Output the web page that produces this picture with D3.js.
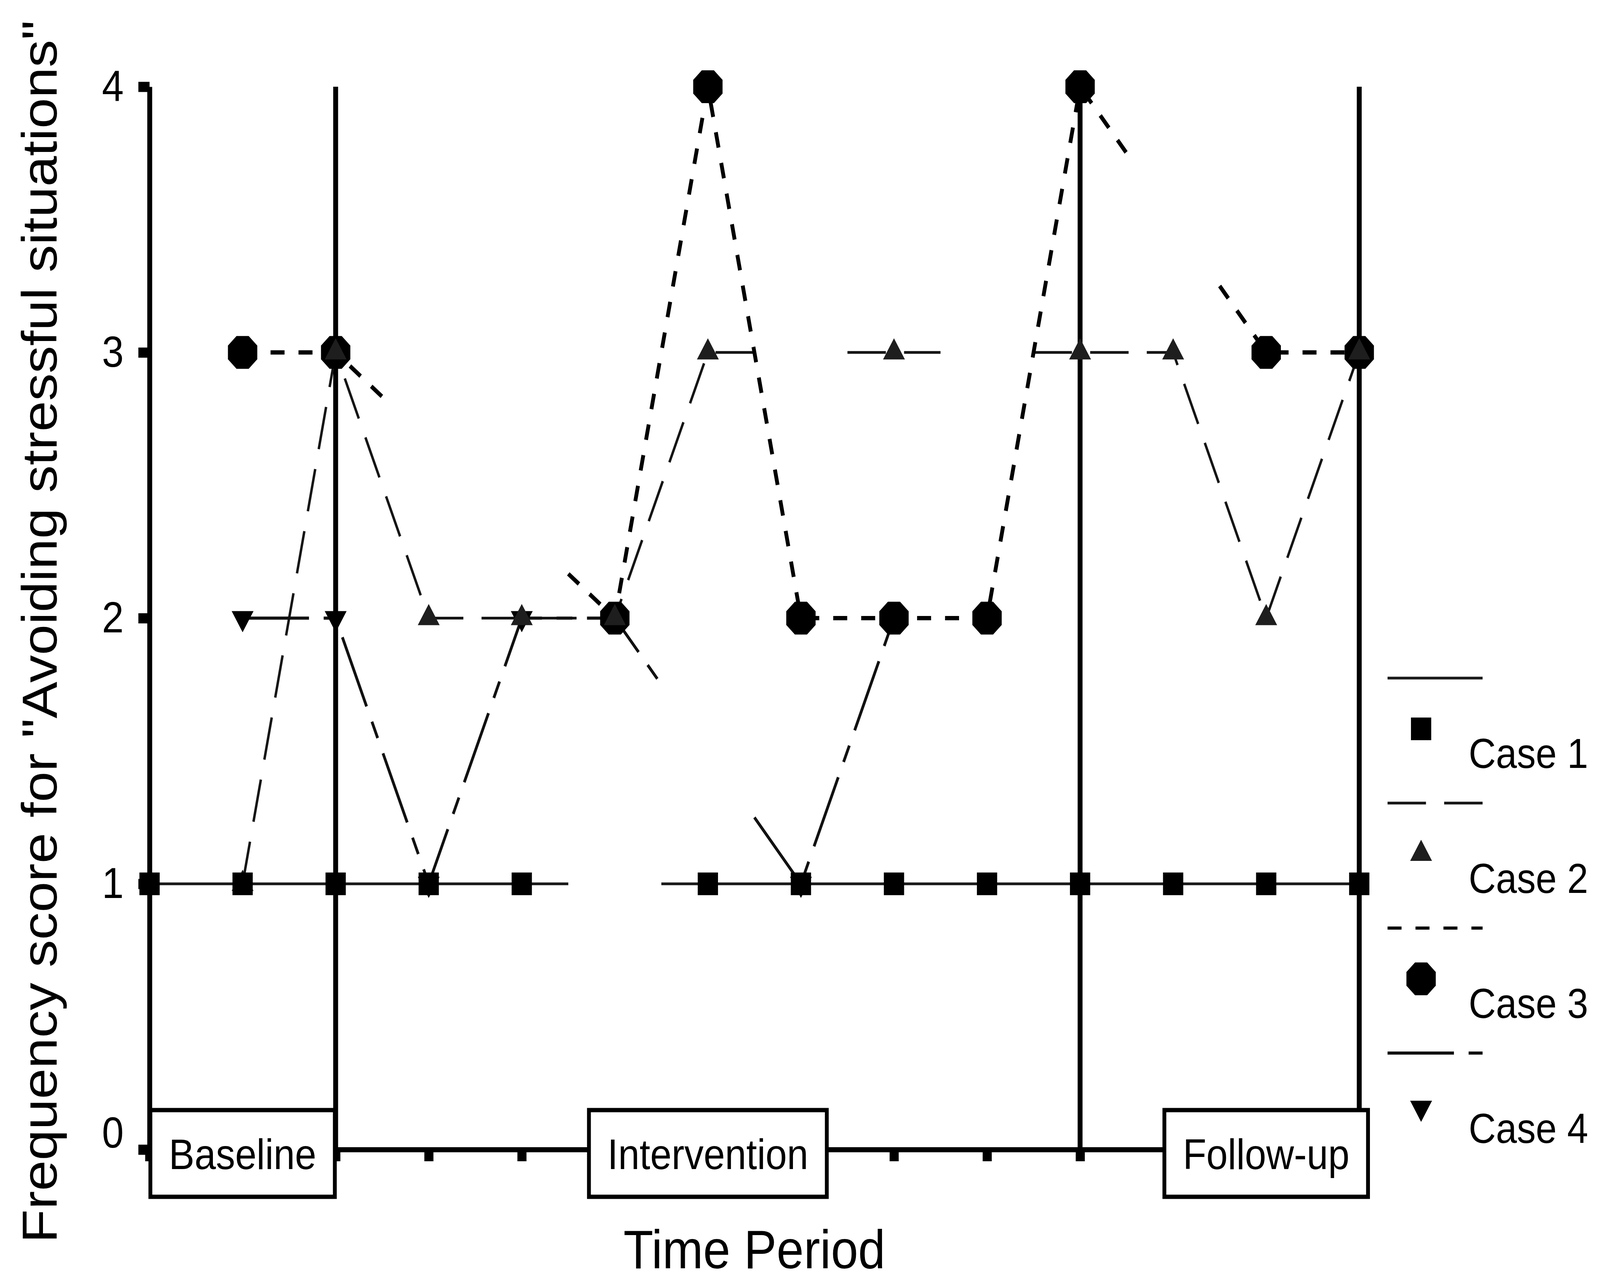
<!DOCTYPE html>
<html>
<head>
<meta charset="utf-8">
<script src="https://cdn.jsdelivr.net/npm/d3@7"></script>
<style>
  html, body { margin: 0; padding: 0; background: #fff; overflow: hidden; }
  text { font-family: "Liberation Sans", Arial, Helvetica, sans-serif; fill: #000; }
</style>
</head>
<body>
<div id="chart"></div>
<script>
// values (null = no point plotted)
const times = [0, 1, 2, 3, 4, 5, 6, 7, 8, 9, 10, 11, 12, 13];
const case1 = [1, 1, 1, 1, 1, null, 1, 1, 1, 1, 1, 1, 1, 1];
const case2 = [null, 1, 3, 2, 2, 2, 3, null, 3, null, 3, 3, 2, 3];
const case3 = [null, 3, 3, null, null, 2, 4, 2, 2, 2, 4, null, 3, 3];
const case4 = [null, 2, 2, 1, 2, 2, null, 1, 2, null, null, null, null, null];
const caseNames = ["Case 1", "Case 2", "Case 3", "Case 4"];
const yTicks = [0, 1, 2, 3, 4];
const phaseLabels = ["Baseline", "Intervention", "Follow-up"];
const phaseCentres = [1, 6, 12];
const phaseLines = [2, 10, 13];

const svgWidth = 4579;
const svgHeight = 3277;

// viewBox so the drawing fills the window whatever its pixel ratio
const svg = d3.select("#chart")
  .append("svg")
  .attr("viewBox", `0 0 ${svgWidth} ${svgHeight}`)
  .attr("preserveAspectRatio", "none")
  .style("width", "100vw")
  .style("height", "100vh")
  .style("display", "block");

svg.append("rect").attr("width", svgWidth).attr("height", svgHeight).attr("fill", "#fff");

const x = d3.scaleLinear().domain([0, 13]).range([428, 3890]);
const y = d3.scaleLinear().domain([0, 4]).range([2943, 222]);

// octagon, the way the plotting program drew its "circles"
const symbolOctagon = {
  draw(ctx, size) {
    const r = Math.sqrt(size) / 2 / Math.cos(Math.PI / 8);
    for (let k = 0; k < 8; k++) {
      const a = Math.PI / 8 + k * Math.PI / 4;
      if (k === 0) ctx.moveTo(r * Math.cos(a), r * Math.sin(a));
      else ctx.lineTo(r * Math.cos(a), r * Math.sin(a));
    }
    ctx.closePath();
  }
};

const series = [
  { name: caseNames[0], values: case1, dash: null, width: 7, color: "#1a1a1a",
    symbol: d3.symbolSquare, size: 58 * 58, rotate: 0, fill: "#000" },
  { name: caseNames[1], values: case2, dash: "110 52", width: 7, color: "#151515",
    symbol: d3.symbolTriangle, size: 1700, rotate: 0, fill: "#1e1e1e" },
  { name: caseNames[2], values: case3, dash: "40 40", width: 11, color: "#000",
    symbol: symbolOctagon, size: 84 * 84, rotate: 0, fill: "#000" },
  { name: caseNames[3], values: case4, dash: "190 42 45 42", width: 8, color: "#111",
    symbol: d3.symbolTriangle, size: 1700, rotate: 180, fill: "#000" }
];

// the program joins across a missing point but only draws the half next to each real point
function runs(values) {
  const out = [];
  let cur = null, prev = null;
  values.forEach((v, i) => {
    if (v == null) return;
    if (prev === null) {
      cur = [[i, v]];
      out.push(cur);
    } else if (i === prev + 1) {
      cur.push([i, v]);
    } else {
      const slope = (v - values[prev]) / (i - prev);
      cur.push([prev + 0.5, values[prev] + slope * 0.5]);
      cur = [[i - 0.5, v - slope * 0.5], [i, v]];
      out.push(cur);
    }
    prev = i;
  });
  return out;
}

// axes
const yAxis = svg.append("g")
  .attr("transform", `translate(${x(0)},0)`)
  .call(d3.axisLeft(y).tickValues(yTicks).tickSize(32).tickSizeOuter(0)
    .tickPadding(42).tickFormat(d3.format("d")));
yAxis.select(".domain").attr("stroke", "#000").attr("stroke-width", 14);
yAxis.selectAll(".tick line").attr("stroke", "#000").attr("stroke-width", 26);
yAxis.selectAll(".tick text").attr("font-size", 112).attr("font-family", null)
  .filter(d => d === 0).attr("dy", "-0.05em");

const xAxis = svg.append("g")
  .attr("transform", `translate(0,${y(0)})`)
  .call(d3.axisBottom(x).tickValues(times).tickSize(30).tickSizeOuter(0).tickFormat(""));
xAxis.select(".domain").attr("stroke", "#000").attr("stroke-width", 13);
xAxis.selectAll(".tick line").attr("stroke", "#000").attr("stroke-width", 26);

// phase change lines
svg.append("g").selectAll("line")
  .data(phaseLines)
  .enter()
  .append("line")
  .attr("x1", d => x(d)).attr("x2", d => x(d))
  .attr("y1", y(0)).attr("y2", y(4))
  .attr("stroke", "#000")
  .attr("stroke-width", 14);

// series lines
const line = d3.line().x(d => x(d[0])).y(d => y(d[1]));
series.forEach(s => {
  svg.append("g").selectAll("path")
    .data(runs(s.values))
    .enter()
    .append("path")
    .attr("d", line)
    .attr("fill", "none")
    .attr("stroke", s.color)
    .attr("stroke-width", s.width)
    .attr("stroke-dasharray", s.dash);
});

// markers: circles first, then triangles, squares on top
[2, 3, 1, 0].forEach(k => {
  const s = series[k];
  const pts = times.filter(t => s.values[t] != null);
  svg.append("g").selectAll("path")
    .data(pts)
    .enter()
    .append("path")
    .attr("d", d3.symbol().type(s.symbol).size(s.size))
    .attr("transform", t => `translate(${x(t)},${y(s.values[t])}) rotate(${s.rotate})`)
    .attr("fill", s.fill);
});

// phase label boxes
const boxes = svg.append("g").selectAll("g")
  .data(phaseLabels)
  .enter()
  .append("g");
boxes.append("rect");
boxes.append("text")
  .attr("x", (d, i) => x(phaseCentres[i]))
  .attr("y", y(0) + 50)
  .attr("text-anchor", "middle")
  .attr("font-size", 110)
  .text(d => d);
boxes.each(function(d, i) {
  const g = d3.select(this);
  const w = g.select("text").node().getComputedTextLength() + 106;
  g.select("rect")
    .attr("x", x(phaseCentres[i]) - w / 2)
    .attr("y", y(0) - 101)
    .attr("width", w)
    .attr("height", 222)
    .attr("fill", "#fff")
    .attr("stroke", "#000")
    .attr("stroke-width", 11);
});

// axis titles
svg.append("text")
  .attr("x", (x(0) + x(13)) / 2)
  .attr("y", 3247)
  .attr("text-anchor", "middle")
  .attr("font-size", 140)
  .text("Time Period");

svg.append("text")
  .attr("transform", "translate(162,1617) rotate(-90)")
  .attr("text-anchor", "middle")
  .attr("font-size", 141)
  .text("Frequency score for \"Avoiding stressful situations\"");

// legend
const legend = svg.append("g").attr("transform", "translate(3971,1736)");
const rows = legend.selectAll("g")
  .data(series)
  .enter()
  .append("g")
  .attr("transform", (d, i) => `translate(0,${i * 320})`);
rows.append("line")
  .attr("x1", 0).attr("x2", 272)
  .attr("stroke", d => d.color)
  .attr("stroke-width", d => Math.min(d.width, 8))
  .attr("stroke-dasharray", d => d.dash);
rows.append("path")
  .attr("d", d => d3.symbol().type(d.symbol).size(d.size)())
  .attr("transform", d => `translate(96,${d.rotate ? 140 : 130}) rotate(${d.rotate})`)
  .attr("fill", d => d.fill);
rows.append("text")
  .attr("x", 232)
  .attr("y", 230)
  .attr("font-size", 108)
  .text(d => d.name);
</script>
</body>
</html>
